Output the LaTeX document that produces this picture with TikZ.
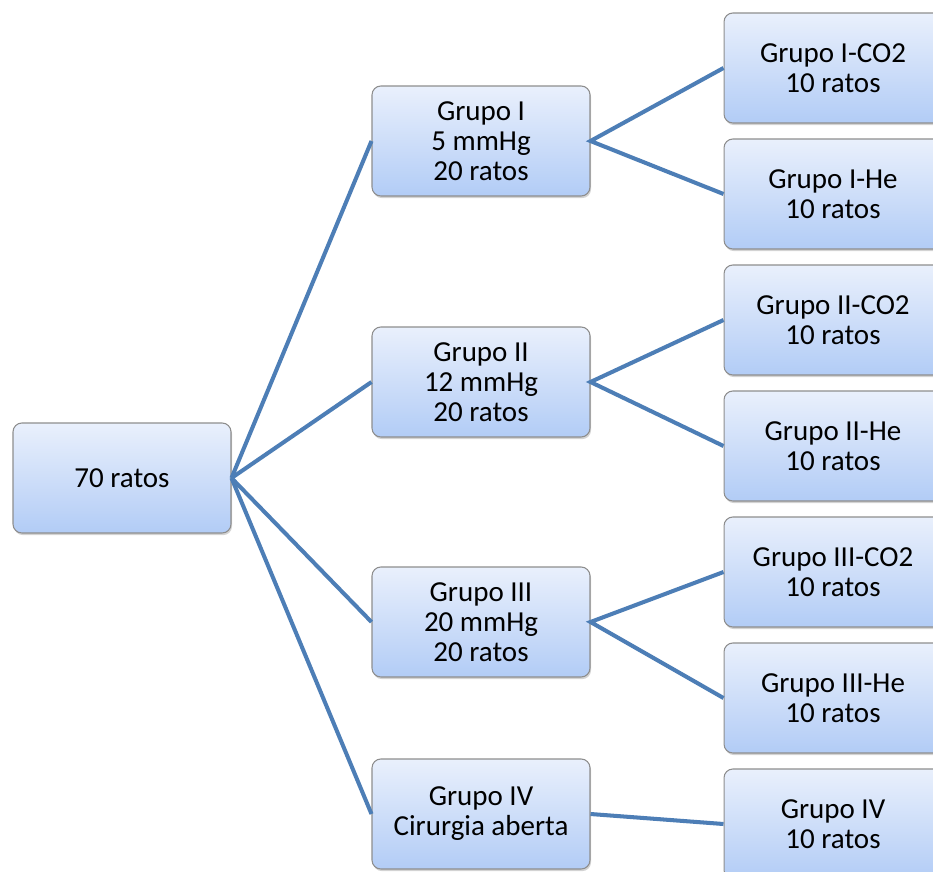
\documentclass[tikz,border=0pt]{standalone}
\usepackage{fontspec}
\setmainfont{Carlito}
\usetikzlibrary{shadows}
\definecolor{boxtop}{HTML}{E9F0FC}
\definecolor{boxbot}{HTML}{B2CCF6}
\definecolor{boxline}{HTML}{8E8E8E}
\definecolor{linkblue}{HTML}{4D7EB6}

\begin{document}
\begin{tikzpicture}[x=0.02cm, y=-0.02cm,
    font=\fontsize{16.5}{17}\selectfont,
    grp/.style={draw=boxline, line width=0.6pt, rounded corners=5pt,
                top color=boxtop, bottom color=boxbot, align=center,
                minimum width=4.36cm, minimum height=2.2cm,
                drop shadow={shadow xshift=0.6pt, shadow yshift=-1.2pt, opacity=0.35}},
    link/.style={draw=linkblue, line width=2.3pt}]
        \useasboundingbox (0,0) rectangle (933,872);
        \clip (0,0) rectangle (933,872);
        % root
        \node[grp] (root) at (122,478) {70 ratos};
        % pressure groups
        \node[grp] (g1) at (481,141) {Grupo I\\5 mmHg\\20 ratos};
        \node[grp] (g2) at (481,382) {Grupo II\\12 mmHg\\20 ratos};
        \node[grp] (g3) at (481,622) {Grupo III\\20 mmHg\\20 ratos};
        \node[grp] (g4) at (481,814) {Grupo IV\\Cirurgia aberta};
        % gas subgroups
        \node[grp] (g1c) at (833,68) {Grupo I-CO2\\10 ratos};
        \node[grp] (g1h) at (833,194) {Grupo I-He\\10 ratos};
        \node[grp] (g2c) at (833,320) {Grupo II-CO2\\10 ratos};
        \node[grp] (g2h) at (833,446) {Grupo II-He\\10 ratos};
        \node[grp] (g3c) at (833,572) {Grupo III-CO2\\10 ratos};
        \node[grp] (g3h) at (833,698) {Grupo III-He\\10 ratos};
        \node[grp] (g4s) at (833,824) {Grupo IV\\10 ratos};
        % connectors
        \foreach \g in {g1,g2,g3,g4}
          \draw[link] (root.east) -- (\g.west);
        \draw[link] (g1c.west) -- (g1.east) -- (g1h.west);
        \draw[link] (g2c.west) -- (g2.east) -- (g2h.west);
        \draw[link] (g3c.west) -- (g3.east) -- (g3h.west);
        \draw[link] (g4.east) -- (g4s.west);
      \end{tikzpicture}
\end{document}
